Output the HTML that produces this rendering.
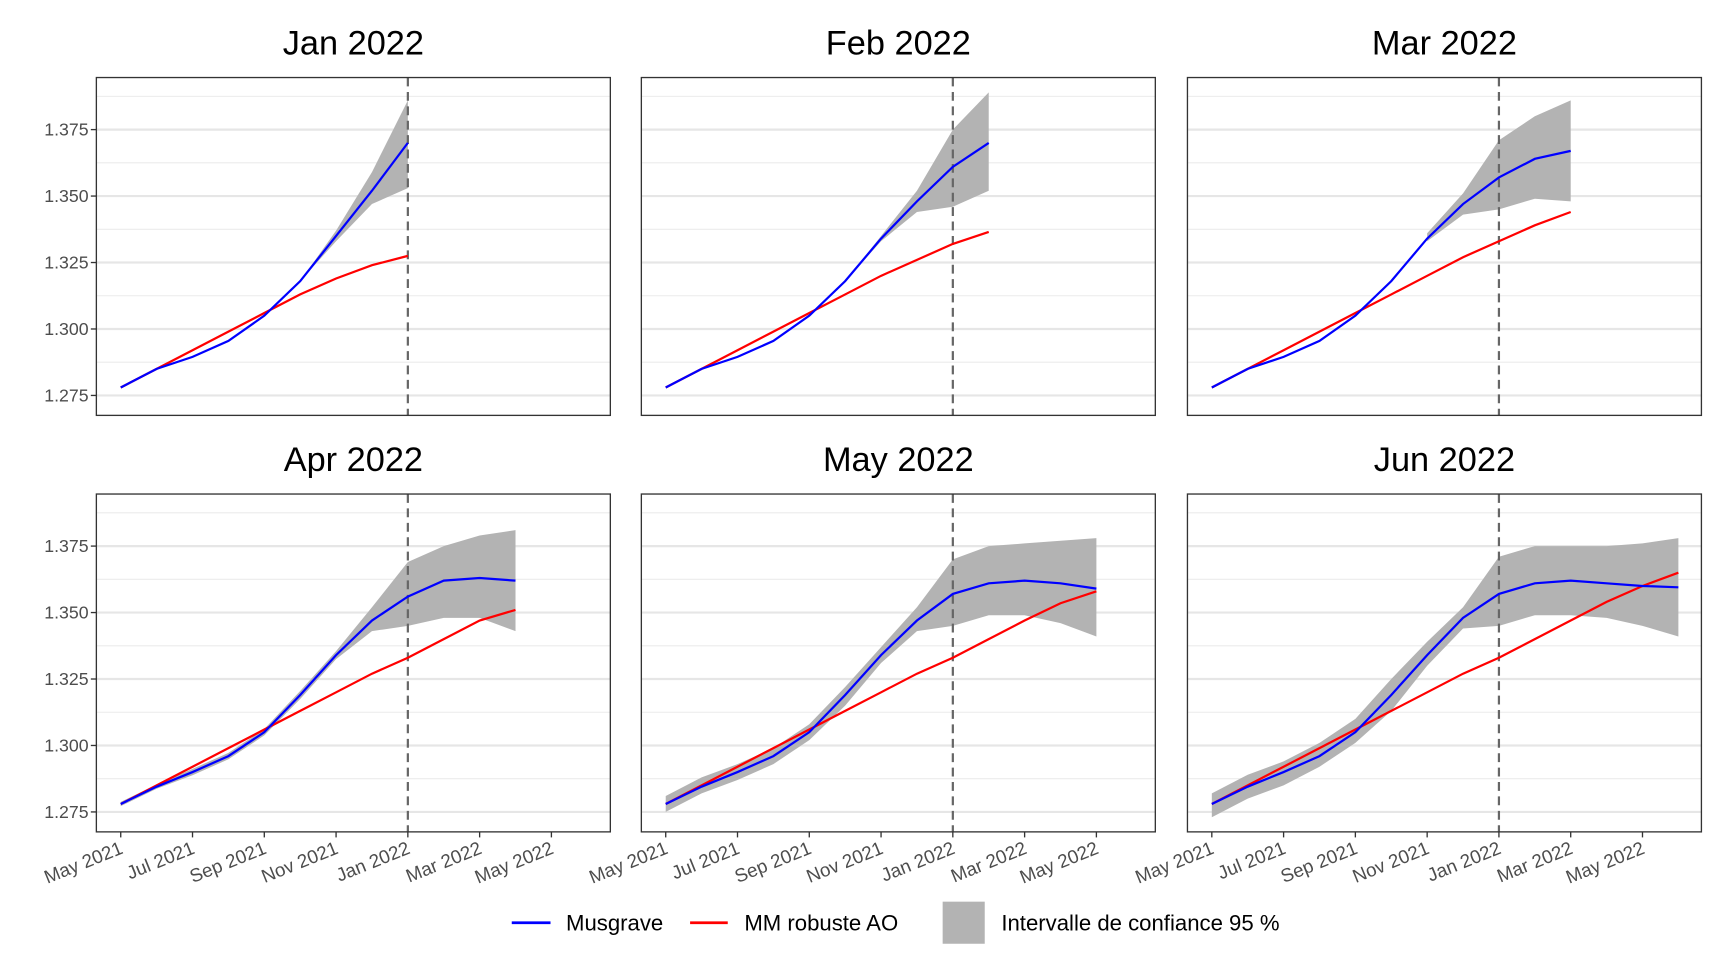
<!DOCTYPE html>
<html><head><meta charset="utf-8"><style>
html,body{margin:0;padding:0;background:#fff;}
svg{display:block;font-family:"Liberation Sans",Arial,sans-serif;}
</style></head><body>
<svg id="chart" width="1728" height="960" viewBox="0 0 1560 866.67" preserveAspectRatio="none" xmlns="http://www.w3.org/2000/svg"></svg>
<script>
const panelTitles = ["Jan 2022","Feb 2022","Mar 2022","Apr 2022","May 2022","Jun 2022"];
const xTickLabels = ["May 2021","Jul 2021","Sep 2021","Nov 2021","Jan 2022","Mar 2022","May 2022"];
const xTickMonths = [0,2,4,6,8,10,12];
const yTicks = [1.275,1.300,1.325,1.350,1.375];
const yMinor = [1.2875,1.3125,1.3375,1.3625,1.3875];
const cutoffMonth = 8;
const musgrave = [
 [1.278,1.285,1.2895,1.2955,1.305,1.318,1.335,1.352,1.370],
 [1.278,1.285,1.2895,1.2955,1.305,1.318,1.334,1.348,1.361,1.370],
 [1.278,1.285,1.2895,1.2955,1.305,1.318,1.334,1.347,1.357,1.364,1.367],
 [1.278,1.2845,1.290,1.296,1.305,1.319,1.334,1.347,1.356,1.362,1.363,1.362],
 [1.278,1.2845,1.290,1.296,1.305,1.319,1.334,1.347,1.357,1.361,1.362,1.361,1.359],
 [1.278,1.2845,1.290,1.296,1.305,1.319,1.334,1.348,1.357,1.361,1.362,1.361,1.360,1.3595]
];
const robust = [
 [1.278,1.285,1.292,1.299,1.306,1.313,1.319,1.324,1.3275],
 [1.278,1.285,1.292,1.299,1.306,1.313,1.320,1.326,1.332,1.3365],
 [1.278,1.285,1.292,1.299,1.306,1.313,1.320,1.327,1.333,1.339,1.344],
 [1.278,1.285,1.292,1.299,1.306,1.313,1.320,1.327,1.333,1.340,1.347,1.351],
 [1.278,1.285,1.292,1.299,1.306,1.313,1.320,1.327,1.333,1.340,1.347,1.3535,1.358],
 [1.278,1.285,1.292,1.299,1.306,1.313,1.320,1.327,1.333,1.340,1.347,1.354,1.360,1.365]
];
const ciStart = [5,5,6,0,0,0];
const ciLow = [
 [1.318,1.333,1.347,1.353],
 [1.318,1.333,1.344,1.346,1.352],
 [1.333,1.343,1.345,1.349,1.348],
 [1.2772,1.2837,1.2888,1.2948,1.3038,1.3175,1.3325,1.343,1.345,1.348,1.348,1.343],
 [1.275,1.282,1.287,1.293,1.302,1.315,1.331,1.343,1.345,1.349,1.349,1.346,1.341],
 [1.273,1.280,1.285,1.292,1.301,1.313,1.330,1.344,1.345,1.349,1.349,1.348,1.345,1.341]
];
const ciHigh = [
 [1.318,1.337,1.359,1.386],
 [1.318,1.335,1.352,1.375,1.389],
 [1.336,1.351,1.371,1.380,1.386],
 [1.2788,1.2853,1.2912,1.2972,1.3062,1.3205,1.3355,1.352,1.369,1.375,1.379,1.381],
 [1.281,1.288,1.293,1.299,1.308,1.322,1.337,1.352,1.370,1.375,1.376,1.377,1.378],
 [1.282,1.289,1.294,1.301,1.310,1.325,1.339,1.352,1.371,1.375,1.375,1.375,1.376,1.378]
];

const NS="http://www.w3.org/2000/svg";
const svg=document.getElementById('chart');
function mk(tag,attrs,parent){const e=document.createElementNS(NS,tag);for(const k in attrs)e.setAttribute(k,attrs[k]);(parent||svg).appendChild(e);return e;}
const colX=[87,579,1072], rowY=[70,446], PW=464, PH=305;
for(let p=0;p<6;p++){
  const c=p%3, r=Math.floor(p/3);
  const L=colX[c], T=rowY[r];
  const xs=m=>L+22+m*32.4;
  const ys=v=>T+287-(v-1.275)/0.1*240;
  const g=mk('g',{});
  
  
  const t=mk('text',{x:L+PW/2,y:T-21,'text-anchor':'middle','font-size':31,fill:'#000'},g);
  t.textContent=panelTitles[p];
  
  
  yMinor.forEach(v=>{const l=mk('line',{x1:L,x2:L+PW,y1:ys(v),y2:ys(v),stroke:'#ebebeb','stroke-width':1},g);});
  yTicks.forEach(v=>{const l=mk('line',{x1:L,x2:L+PW,y1:ys(v),y2:ys(v),stroke:'#e6e6e6','stroke-width':2},g);});
  const s=ciStart[p];let up=[],dn=[];
  ciHigh[p].forEach((v,i)=>up.push(xs(s+i)+','+ys(v)));
  ciLow[p].forEach((v,i)=>dn.push(xs(s+i)+','+ys(v)));
  const band=mk('polygon',{points:up.concat(dn.reverse()).join(' '),fill:'#b3b3b3'},g);
  
  
  const vl=mk('line',{x1:xs(cutoffMonth),x2:xs(cutoffMonth),y1:T,y2:T+PH,stroke:'#666','stroke-width':2,'stroke-dasharray':'8,5'},g);
  
  
  const rl=mk('polyline',{points:robust[p].map((v,i)=>xs(i)+','+ys(v)).join(' '),fill:'none',stroke:'#ff0000','stroke-width':2},g);
  
  
  const bl=mk('polyline',{points:musgrave[p].map((v,i)=>xs(i)+','+ys(v)).join(' '),fill:'none',stroke:'#0000ff','stroke-width':2},g);
  
  
  const fr=mk('rect',{x:L,y:T,width:PW,height:PH,fill:'none',stroke:'#333','stroke-width':1.2},g);
  
  
  if(c===0){
    yTicks.forEach(v=>{
      mk('line',{x1:L-5,x2:L,y1:ys(v),y2:ys(v),stroke:'#333','stroke-width':1.2},g);
      const tl=mk('text',{x:L-7,y:ys(v)+5.5,'text-anchor':'end','font-size':16,fill:'#4d4d4d'},g);
      tl.textContent=v.toFixed(3);
      
      
    });
  }
  if(r===1){
    xTickMonths.forEach((m,i)=>{
      mk('line',{x1:xs(m),x2:xs(m),y1:T+PH,y2:T+PH+5,stroke:'#333','stroke-width':1.2},g);
      const ax=xs(m)+3, ay=T+PH+19;
      const tl=mk('text',{x:ax,y:ay,'text-anchor':'end','font-size':17,fill:'#4d4d4d',transform:'rotate(-22 '+ax+' '+ay+')'},g);
      tl.textContent=xTickLabels[i];
      
      
    });
  }
}
const lg=mk('g',{});


mk('line',{x1:462,x2:497,y1:833,y2:833,stroke:'#0000ff','stroke-width':2.5},lg);
let tx=mk('text',{x:511,y:840,'font-size':20,fill:'#000'},lg);tx.textContent='Musgrave';


mk('line',{x1:623,x2:657,y1:833,y2:833,stroke:'#ff0000','stroke-width':2.5},lg);
tx=mk('text',{x:672,y:840,'font-size':20,fill:'#000'},lg);tx.textContent='MM robuste AO';


mk('rect',{x:851,y:814,width:38,height:38,fill:'#b3b3b3'},lg);
tx=mk('text',{x:904,y:840,'font-size':20,fill:'#000'},lg);tx.textContent='Intervalle de confiance 95 %';


</script>
</body></html>
